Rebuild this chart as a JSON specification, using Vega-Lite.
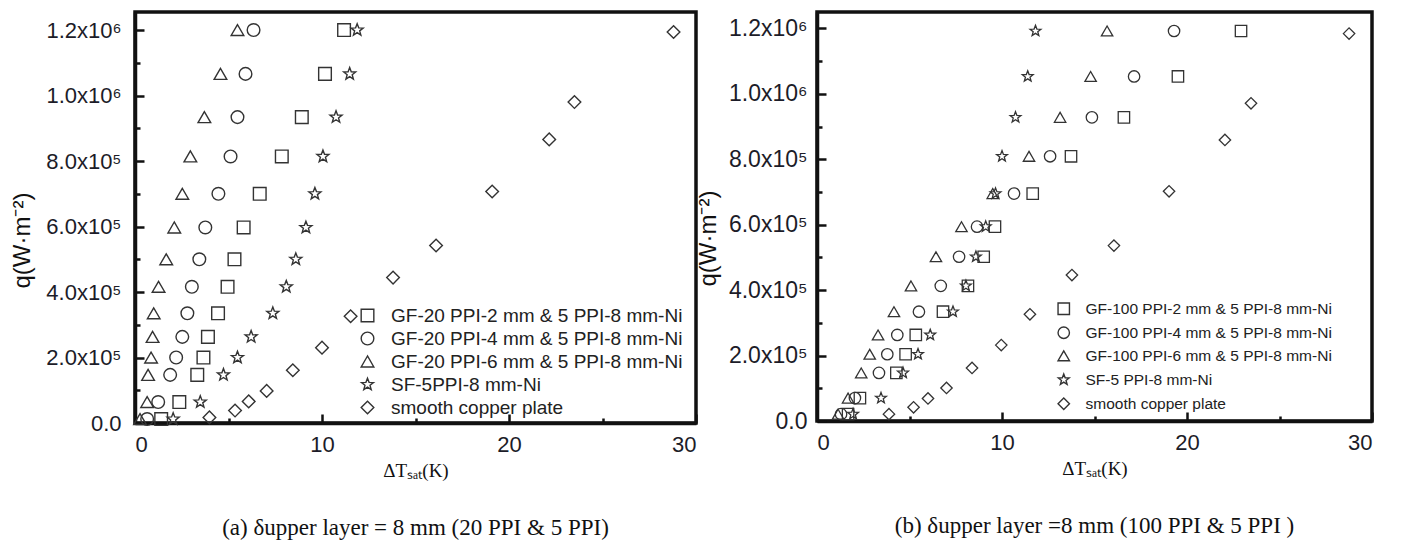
{
  "$schema": "https://vega.github.io/schema/vega-lite/v6.json",
  "background": "white",
  "padding": {"left": 8, "top": 10, "right": 5, "bottom": 3},
  "spacing": -5,
  "config": {
    "font": "Liberation Sans",
    "view": {"stroke": "#111", "strokeWidth": 3.5},
    "axis": {"domainColor": "#111", "domainWidth": 3.5, "tickColor": "#111", "tickWidth": 2.5, "labelFont": "Liberation Sans", "labelFontSize": 22, "labelColor": "#1c1c28", "grid": false, "titleFontWeight": "normal", "titleColor": "#111"},
    "legend": {"orient": "none", "labelFont": "Liberation Sans", "labelColor": "#222", "symbolStrokeWidth": 1.4, "padding": 0, "labelLimit": 400},
    "title": {"font": "Liberation Serif", "fontSize": 23, "fontWeight": "normal", "color": "#111"}
  },
  "resolve": {"scale": {"x": "independent", "y": "independent", "shape": "independent"}, "legend": {"shape": "independent"}},
  "datasets": {
    "a": [
      {"s": "GF-20 PPI-2 mm & 5 PPI-8 mm-Ni", "dT": 11.18, "q": 1200000},
      {"s": "GF-20 PPI-2 mm & 5 PPI-8 mm-Ni", "dT": 10.16, "q": 1066000},
      {"s": "GF-20 PPI-2 mm & 5 PPI-8 mm-Ni", "dT": 8.92, "q": 934000},
      {"s": "GF-20 PPI-2 mm & 5 PPI-8 mm-Ni", "dT": 7.85, "q": 814000},
      {"s": "GF-20 PPI-2 mm & 5 PPI-8 mm-Ni", "dT": 6.67, "q": 700000},
      {"s": "GF-20 PPI-2 mm & 5 PPI-8 mm-Ni", "dT": 5.81, "q": 597000},
      {"s": "GF-20 PPI-2 mm & 5 PPI-8 mm-Ni", "dT": 5.32, "q": 500000},
      {"s": "GF-20 PPI-2 mm & 5 PPI-8 mm-Ni", "dT": 4.95, "q": 416000},
      {"s": "GF-20 PPI-2 mm & 5 PPI-8 mm-Ni", "dT": 4.44, "q": 335000},
      {"s": "GF-20 PPI-2 mm & 5 PPI-8 mm-Ni", "dT": 3.9, "q": 263000},
      {"s": "GF-20 PPI-2 mm & 5 PPI-8 mm-Ni", "dT": 3.66, "q": 200000},
      {"s": "GF-20 PPI-2 mm & 5 PPI-8 mm-Ni", "dT": 3.33, "q": 147000},
      {"s": "GF-20 PPI-2 mm & 5 PPI-8 mm-Ni", "dT": 2.37, "q": 64000},
      {"s": "GF-20 PPI-2 mm & 5 PPI-8 mm-Ni", "dT": 1.4, "q": 12000},
      {"s": "GF-20 PPI-4 mm & 5 PPI-8 mm-Ni", "dT": 6.34, "q": 1200000},
      {"s": "GF-20 PPI-4 mm & 5 PPI-8 mm-Ni", "dT": 5.91, "q": 1066000},
      {"s": "GF-20 PPI-4 mm & 5 PPI-8 mm-Ni", "dT": 5.48, "q": 934000},
      {"s": "GF-20 PPI-4 mm & 5 PPI-8 mm-Ni", "dT": 5.11, "q": 814000},
      {"s": "GF-20 PPI-4 mm & 5 PPI-8 mm-Ni", "dT": 4.46, "q": 700000},
      {"s": "GF-20 PPI-4 mm & 5 PPI-8 mm-Ni", "dT": 3.76, "q": 597000},
      {"s": "GF-20 PPI-4 mm & 5 PPI-8 mm-Ni", "dT": 3.44, "q": 500000},
      {"s": "GF-20 PPI-4 mm & 5 PPI-8 mm-Ni", "dT": 3.04, "q": 416000},
      {"s": "GF-20 PPI-4 mm & 5 PPI-8 mm-Ni", "dT": 2.8, "q": 335000},
      {"s": "GF-20 PPI-4 mm & 5 PPI-8 mm-Ni", "dT": 2.53, "q": 263000},
      {"s": "GF-20 PPI-4 mm & 5 PPI-8 mm-Ni", "dT": 2.2, "q": 200000},
      {"s": "GF-20 PPI-4 mm & 5 PPI-8 mm-Ni", "dT": 1.88, "q": 147000},
      {"s": "GF-20 PPI-4 mm & 5 PPI-8 mm-Ni", "dT": 1.24, "q": 64000},
      {"s": "GF-20 PPI-4 mm & 5 PPI-8 mm-Ni", "dT": 0.65, "q": 12000},
      {"s": "GF-20 PPI-6 mm & 5 PPI-8 mm-Ni", "dT": 5.48, "q": 1200000},
      {"s": "GF-20 PPI-6 mm & 5 PPI-8 mm-Ni", "dT": 4.57, "q": 1066000},
      {"s": "GF-20 PPI-6 mm & 5 PPI-8 mm-Ni", "dT": 3.71, "q": 934000},
      {"s": "GF-20 PPI-6 mm & 5 PPI-8 mm-Ni", "dT": 2.96, "q": 814000},
      {"s": "GF-20 PPI-6 mm & 5 PPI-8 mm-Ni", "dT": 2.53, "q": 700000},
      {"s": "GF-20 PPI-6 mm & 5 PPI-8 mm-Ni", "dT": 2.1, "q": 597000},
      {"s": "GF-20 PPI-6 mm & 5 PPI-8 mm-Ni", "dT": 1.67, "q": 500000},
      {"s": "GF-20 PPI-6 mm & 5 PPI-8 mm-Ni", "dT": 1.26, "q": 416000},
      {"s": "GF-20 PPI-6 mm & 5 PPI-8 mm-Ni", "dT": 1.0, "q": 335000},
      {"s": "GF-20 PPI-6 mm & 5 PPI-8 mm-Ni", "dT": 0.94, "q": 263000},
      {"s": "GF-20 PPI-6 mm & 5 PPI-8 mm-Ni", "dT": 0.86, "q": 200000},
      {"s": "GF-20 PPI-6 mm & 5 PPI-8 mm-Ni", "dT": 0.7, "q": 147000},
      {"s": "GF-20 PPI-6 mm & 5 PPI-8 mm-Ni", "dT": 0.65, "q": 64000},
      {"s": "GF-20 PPI-6 mm & 5 PPI-8 mm-Ni", "dT": 0.27, "q": 12000},
      {"s": "SF-5PPI-8 mm-Ni", "dT": 11.88, "q": 1200000},
      {"s": "SF-5PPI-8 mm-Ni", "dT": 11.48, "q": 1066000},
      {"s": "SF-5PPI-8 mm-Ni", "dT": 10.75, "q": 934000},
      {"s": "SF-5PPI-8 mm-Ni", "dT": 10.05, "q": 814000},
      {"s": "SF-5PPI-8 mm-Ni", "dT": 9.62, "q": 700000},
      {"s": "SF-5PPI-8 mm-Ni", "dT": 9.14, "q": 597000},
      {"s": "SF-5PPI-8 mm-Ni", "dT": 8.6, "q": 500000},
      {"s": "SF-5PPI-8 mm-Ni", "dT": 8.09, "q": 416000},
      {"s": "SF-5PPI-8 mm-Ni", "dT": 7.37, "q": 335000},
      {"s": "SF-5PPI-8 mm-Ni", "dT": 6.21, "q": 263000},
      {"s": "SF-5PPI-8 mm-Ni", "dT": 5.48, "q": 200000},
      {"s": "SF-5PPI-8 mm-Ni", "dT": 4.73, "q": 147000},
      {"s": "SF-5PPI-8 mm-Ni", "dT": 3.49, "q": 64000},
      {"s": "SF-5PPI-8 mm-Ni", "dT": 2.04, "q": 12000},
      {"s": "smooth copper plate", "dT": 28.8, "q": 1194000},
      {"s": "smooth copper plate", "dT": 23.5, "q": 980000},
      {"s": "smooth copper plate", "dT": 22.15, "q": 866000},
      {"s": "smooth copper plate", "dT": 19.1, "q": 707000},
      {"s": "smooth copper plate", "dT": 16.1, "q": 542000},
      {"s": "smooth copper plate", "dT": 13.8, "q": 444000},
      {"s": "smooth copper plate", "dT": 11.53, "q": 326000},
      {"s": "smooth copper plate", "dT": 10.0, "q": 230000},
      {"s": "smooth copper plate", "dT": 8.44, "q": 161000},
      {"s": "smooth copper plate", "dT": 7.04, "q": 98000},
      {"s": "smooth copper plate", "dT": 6.08, "q": 66000},
      {"s": "smooth copper plate", "dT": 5.35, "q": 38000},
      {"s": "smooth copper plate", "dT": 3.98, "q": 17000}
    ],
    "b": [
      {"s": "GF-100 PPI-2 mm & 5 PPI-8 mm-Ni", "dT": 22.92, "q": 1192000},
      {"s": "GF-100 PPI-2 mm & 5 PPI-8 mm-Ni", "dT": 19.51, "q": 1053000},
      {"s": "GF-100 PPI-2 mm & 5 PPI-8 mm-Ni", "dT": 16.59, "q": 928000},
      {"s": "GF-100 PPI-2 mm & 5 PPI-8 mm-Ni", "dT": 13.73, "q": 809000},
      {"s": "GF-100 PPI-2 mm & 5 PPI-8 mm-Ni", "dT": 11.66, "q": 695000},
      {"s": "GF-100 PPI-2 mm & 5 PPI-8 mm-Ni", "dT": 9.62, "q": 594000},
      {"s": "GF-100 PPI-2 mm & 5 PPI-8 mm-Ni", "dT": 9.01, "q": 502000},
      {"s": "GF-100 PPI-2 mm & 5 PPI-8 mm-Ni", "dT": 8.16, "q": 413000},
      {"s": "GF-100 PPI-2 mm & 5 PPI-8 mm-Ni", "dT": 6.81, "q": 334000},
      {"s": "GF-100 PPI-2 mm & 5 PPI-8 mm-Ni", "dT": 5.34, "q": 263000},
      {"s": "GF-100 PPI-2 mm & 5 PPI-8 mm-Ni", "dT": 4.79, "q": 204000},
      {"s": "GF-100 PPI-2 mm & 5 PPI-8 mm-Ni", "dT": 4.29, "q": 147000},
      {"s": "GF-100 PPI-2 mm & 5 PPI-8 mm-Ni", "dT": 2.32, "q": 70000},
      {"s": "GF-100 PPI-2 mm & 5 PPI-8 mm-Ni", "dT": 1.68, "q": 21000},
      {"s": "GF-100 PPI-4 mm & 5 PPI-8 mm-Ni", "dT": 19.3, "q": 1192000},
      {"s": "GF-100 PPI-4 mm & 5 PPI-8 mm-Ni", "dT": 17.14, "q": 1053000},
      {"s": "GF-100 PPI-4 mm & 5 PPI-8 mm-Ni", "dT": 14.86, "q": 928000},
      {"s": "GF-100 PPI-4 mm & 5 PPI-8 mm-Ni", "dT": 12.6, "q": 809000},
      {"s": "GF-100 PPI-4 mm & 5 PPI-8 mm-Ni", "dT": 10.65, "q": 695000},
      {"s": "GF-100 PPI-4 mm & 5 PPI-8 mm-Ni", "dT": 8.65, "q": 594000},
      {"s": "GF-100 PPI-4 mm & 5 PPI-8 mm-Ni", "dT": 7.68, "q": 502000},
      {"s": "GF-100 PPI-4 mm & 5 PPI-8 mm-Ni", "dT": 6.69, "q": 413000},
      {"s": "GF-100 PPI-4 mm & 5 PPI-8 mm-Ni", "dT": 5.51, "q": 334000},
      {"s": "GF-100 PPI-4 mm & 5 PPI-8 mm-Ni", "dT": 4.34, "q": 263000},
      {"s": "GF-100 PPI-4 mm & 5 PPI-8 mm-Ni", "dT": 3.8, "q": 204000},
      {"s": "GF-100 PPI-4 mm & 5 PPI-8 mm-Ni", "dT": 3.35, "q": 147000},
      {"s": "GF-100 PPI-4 mm & 5 PPI-8 mm-Ni", "dT": 2.05, "q": 70000},
      {"s": "GF-100 PPI-4 mm & 5 PPI-8 mm-Ni", "dT": 1.3, "q": 21000},
      {"s": "GF-100 PPI-6 mm & 5 PPI-8 mm-Ni", "dT": 15.68, "q": 1192000},
      {"s": "GF-100 PPI-6 mm & 5 PPI-8 mm-Ni", "dT": 14.79, "q": 1053000},
      {"s": "GF-100 PPI-6 mm & 5 PPI-8 mm-Ni", "dT": 13.14, "q": 928000},
      {"s": "GF-100 PPI-6 mm & 5 PPI-8 mm-Ni", "dT": 11.46, "q": 809000},
      {"s": "GF-100 PPI-6 mm & 5 PPI-8 mm-Ni", "dT": 9.5, "q": 695000},
      {"s": "GF-100 PPI-6 mm & 5 PPI-8 mm-Ni", "dT": 7.81, "q": 594000},
      {"s": "GF-100 PPI-6 mm & 5 PPI-8 mm-Ni", "dT": 6.43, "q": 502000},
      {"s": "GF-100 PPI-6 mm & 5 PPI-8 mm-Ni", "dT": 5.08, "q": 413000},
      {"s": "GF-100 PPI-6 mm & 5 PPI-8 mm-Ni", "dT": 4.16, "q": 334000},
      {"s": "GF-100 PPI-6 mm & 5 PPI-8 mm-Ni", "dT": 3.3, "q": 263000},
      {"s": "GF-100 PPI-6 mm & 5 PPI-8 mm-Ni", "dT": 2.85, "q": 204000},
      {"s": "GF-100 PPI-6 mm & 5 PPI-8 mm-Ni", "dT": 2.39, "q": 147000},
      {"s": "GF-100 PPI-6 mm & 5 PPI-8 mm-Ni", "dT": 1.68, "q": 70000},
      {"s": "GF-100 PPI-6 mm & 5 PPI-8 mm-Ni", "dT": 1.14, "q": 21000},
      {"s": "SF-5 PPI-8 mm-Ni", "dT": 11.81, "q": 1192000},
      {"s": "SF-5 PPI-8 mm-Ni", "dT": 11.39, "q": 1053000},
      {"s": "SF-5 PPI-8 mm-Ni", "dT": 10.73, "q": 928000},
      {"s": "SF-5 PPI-8 mm-Ni", "dT": 10.0, "q": 809000},
      {"s": "SF-5 PPI-8 mm-Ni", "dT": 9.65, "q": 695000},
      {"s": "SF-5 PPI-8 mm-Ni", "dT": 9.12, "q": 594000},
      {"s": "SF-5 PPI-8 mm-Ni", "dT": 8.59, "q": 502000},
      {"s": "SF-5 PPI-8 mm-Ni", "dT": 8.05, "q": 413000},
      {"s": "SF-5 PPI-8 mm-Ni", "dT": 7.35, "q": 334000},
      {"s": "SF-5 PPI-8 mm-Ni", "dT": 6.12, "q": 263000},
      {"s": "SF-5 PPI-8 mm-Ni", "dT": 5.46, "q": 204000},
      {"s": "SF-5 PPI-8 mm-Ni", "dT": 4.65, "q": 147000},
      {"s": "SF-5 PPI-8 mm-Ni", "dT": 3.46, "q": 70000},
      {"s": "SF-5 PPI-8 mm-Ni", "dT": 1.95, "q": 21000},
      {"s": "smooth copper plate", "dT": 28.76, "q": 1184000},
      {"s": "smooth copper plate", "dT": 23.46, "q": 971000},
      {"s": "smooth copper plate", "dT": 22.05, "q": 859000},
      {"s": "smooth copper plate", "dT": 19.03, "q": 702000},
      {"s": "smooth copper plate", "dT": 16.05, "q": 536000},
      {"s": "smooth copper plate", "dT": 13.78, "q": 446000},
      {"s": "smooth copper plate", "dT": 11.51, "q": 326000},
      {"s": "smooth copper plate", "dT": 9.96, "q": 232000},
      {"s": "smooth copper plate", "dT": 8.38, "q": 162000},
      {"s": "smooth copper plate", "dT": 7.0, "q": 101000},
      {"s": "smooth copper plate", "dT": 6.0, "q": 69000},
      {"s": "smooth copper plate", "dT": 5.22, "q": 42000},
      {"s": "smooth copper plate", "dT": 3.89, "q": 21000}
    ]
  },
  "hconcat": [
    {
      "width": 561,
      "height": 411,
      "data": {"name": "a"},
      "title": {"text": "(a) δupper layer = 8 mm (20 PPI & 5 PPI)", "orient": "bottom", "offset": 37},
      "mark": {"type": "point", "filled": false, "strokeWidth": 1.4, "color": "#333", "opacity": 1, "size": 160},
      "encoding": {
        "x": {"field": "dT", "type": "quantitative", "scale": {"domain": [0, 30], "nice": false},
          "axis": {"values": [0, 5, 10, 15, 20, 25, 30], "labelExpr": "datum.value % 10 === 0 ? format(datum.value, 'd') : ''", "tickSize": {"condition": {"test": "datum.value % 10 === 0", "value": -9}, "value": -5}, "labelPadding": 20, "title": "ΔTₛₐₜ(K)", "titleFont": "Liberation Serif", "titleFontSize": 19, "titlePadding": 6}},
        "y": {"field": "q", "type": "quantitative", "scale": {"domain": [0, 1255000], "nice": false},
          "axis": {"values": [0, 100000, 200000, 300000, 400000, 500000, 600000, 700000, 800000, 900000, 1000000, 1100000, 1200000], "labelExpr": "datum.value === 0 ? '0.0' : (datum.value % 200000 !== 0 ? '' : (datum.value >= 1000000 ? format(datum.value / 1000000, '.1f') + 'x10⁶' : format(datum.value / 100000, '.1f') + 'x10⁵'))", "tickSize": {"condition": {"test": "datum.value % 200000 === 0", "value": -9}, "value": -5}, "labelPadding": 23, "title": "q(W·m⁻²)", "titleFont": "Liberation Sans", "titleFontSize": 24, "titleX": -113, "titleY": 228, "titleAlign": "center", "titleBaseline": "middle", "titleAngle": 270}},
        "shape": {"field": "s", "type": "nominal",
          "scale": {"domain": ["GF-20 PPI-2 mm & 5 PPI-8 mm-Ni", "GF-20 PPI-4 mm & 5 PPI-8 mm-Ni", "GF-20 PPI-6 mm & 5 PPI-8 mm-Ni", "SF-5PPI-8 mm-Ni", "smooth copper plate"],
            "range": ["square", "circle", "triangle-up", "M0,-1L0.247,-0.34L0.951,-0.309L0.399,0.13L0.588,0.809L0,0.42L-0.588,0.809L-0.399,0.13L-0.951,-0.309L-0.247,-0.34Z", "diamond"]},
          "legend": {"title": null, "orient": "none", "legendX": 223, "legendY": 294, "labelFontSize": 19, "symbolSize": 160, "rowPadding": 3, "labelOffset": 14, "symbolStrokeColor": "#333"}}
      }
    },
    {
      "width": 555,
      "height": 409,
      "data": {"name": "b"},
      "title": {"text": "(b) δupper layer =8 mm (100 PPI & 5 PPI )", "orient": "bottom", "offset": 37},
      "mark": {"type": "point", "filled": false, "strokeWidth": 1.3, "color": "#333", "opacity": 1, "size": 130},
      "encoding": {
        "x": {"field": "dT", "type": "quantitative", "scale": {"domain": [0, 30], "nice": false},
          "axis": {"values": [0, 5, 10, 15, 20, 25, 30], "labelExpr": "datum.value % 10 === 0 ? format(datum.value, 'd') : ''", "tickSize": {"condition": {"test": "datum.value % 10 === 0", "value": -9}, "value": -5}, "labelPadding": 20, "title": "ΔTₛₐₜ(K)", "titleFont": "Liberation Serif", "titleFontSize": 19, "titlePadding": 6}},
        "y": {"field": "q", "type": "quantitative", "scale": {"domain": [0, 1250000], "nice": false},
          "axis": {"values": [0, 100000, 200000, 300000, 400000, 500000, 600000, 700000, 800000, 900000, 1000000, 1100000, 1200000], "labelExpr": "datum.value === 0 ? '0.0' : (datum.value % 200000 !== 0 ? '' : (datum.value >= 1000000 ? format(datum.value / 1000000, '.1f') + 'x10⁶' : format(datum.value / 100000, '.1f') + 'x10⁵'))", "tickSize": {"condition": {"test": "datum.value % 200000 === 0", "value": -9}, "value": -5}, "labelPadding": 19, "labelFontSize": 23, "title": "q(W·m⁻²)", "titleFont": "Liberation Sans", "titleFontSize": 24, "titleX": -109, "titleY": 226, "titleAlign": "center", "titleBaseline": "middle", "titleAngle": 270}},
        "shape": {"field": "s", "type": "nominal",
          "scale": {"domain": ["GF-100 PPI-2 mm & 5 PPI-8 mm-Ni", "GF-100 PPI-4 mm & 5 PPI-8 mm-Ni", "GF-100 PPI-6 mm & 5 PPI-8 mm-Ni", "SF-5 PPI-8 mm-Ni", "smooth copper plate"],
            "range": ["square", "circle", "triangle-up", "M0,-1L0.247,-0.34L0.951,-0.309L0.399,0.13L0.588,0.809L0,0.42L-0.588,0.809L-0.399,0.13L-0.951,-0.309L-0.247,-0.34Z", "diamond"]},
          "legend": {"title": null, "orient": "none", "legendX": 239, "legendY": 289, "labelFontSize": 15.5, "symbolSize": 130, "rowPadding": 6, "labelOffset": 14, "symbolStrokeColor": "#333"}}
      }
    }
  ]
}
